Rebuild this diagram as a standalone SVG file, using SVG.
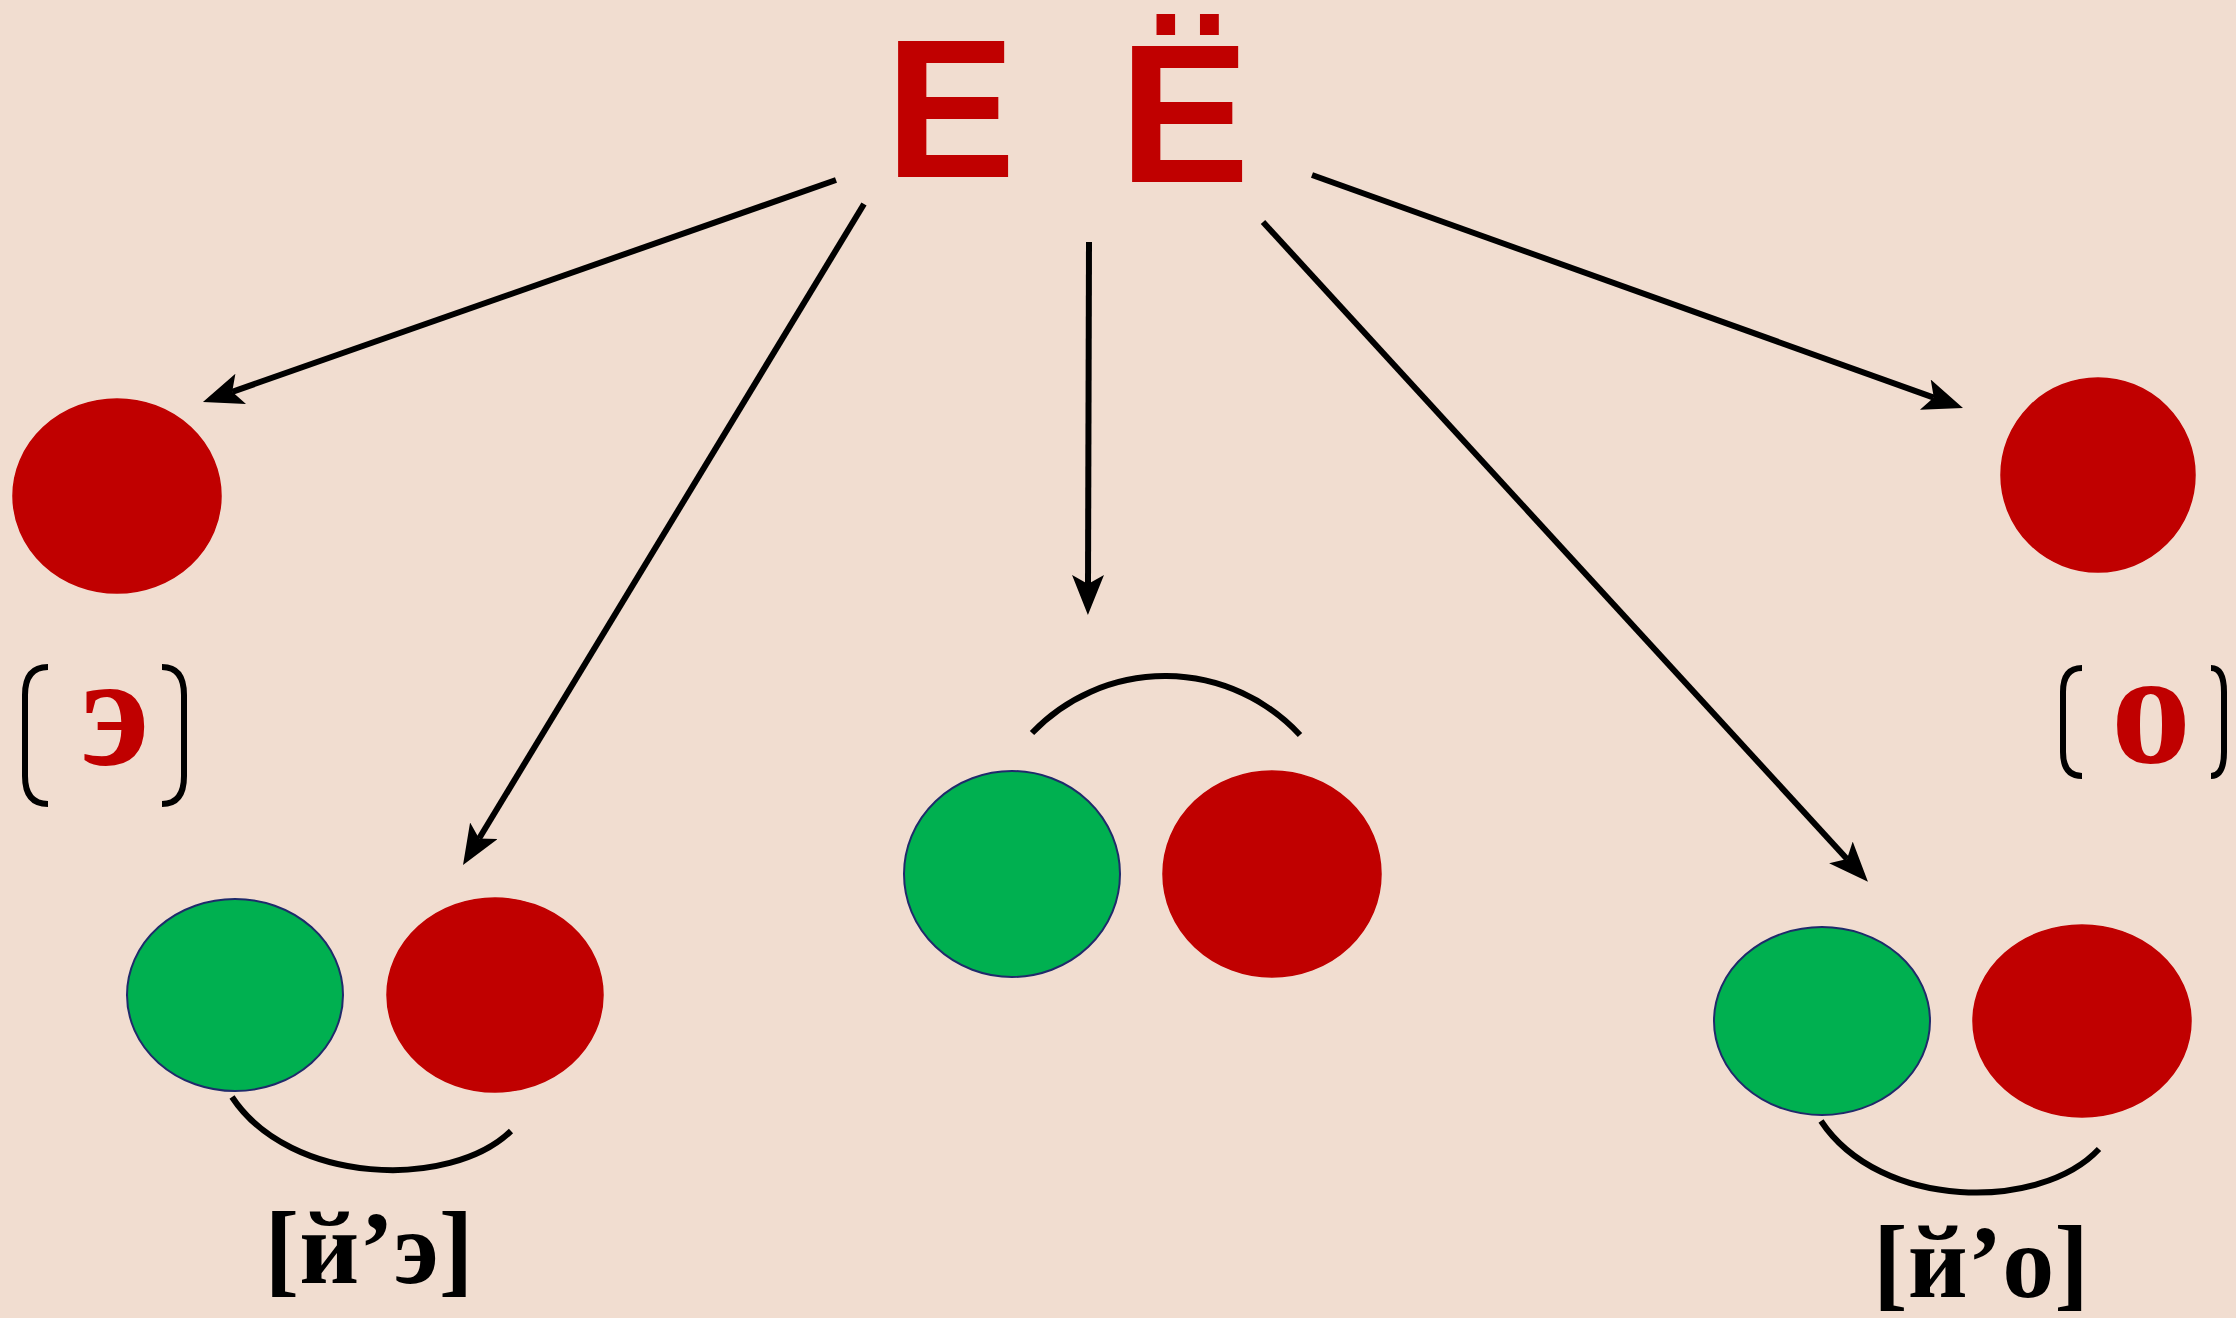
<svg xmlns="http://www.w3.org/2000/svg" width="2236" height="1318" viewBox="0 0 2236 1318">
<style>
.red{fill:#C00000;stroke:#C00000;stroke-width:1.5}
.green{fill:#00B050;stroke:#1F2A6B;stroke-width:2}
</style>
<defs>
<marker id="ah" markerUnits="userSpaceOnUse" markerWidth="42" markerHeight="34" refX="9" refY="16" orient="auto" viewBox="0 0 42 34">
<path d="M0,0 L40,16 L0,32 L9,16 Z" fill="#000"/>
</marker>
</defs>
<rect width="2236" height="1318" fill="#F1DDD0"/>
<g id="title" font-family="Liberation Sans, Arial, sans-serif" font-weight="700" font-size="196" fill="#C00000">
<text x="885" y="177">Е</text>
<text x="1119" y="182">Ё</text>
</g>
<g id="connectors" stroke="#000" stroke-width="6" fill="none">
<line x1="836" y1="180" x2="232.2" y2="391.8" marker-end="url(#ah)"/>
<line x1="864" y1="204" x2="479.1" y2="838.5" marker-end="url(#ah)"/>
<line x1="1089" y1="242" x2="1088" y2="584" marker-end="url(#ah)"/>
<line x1="1263" y1="222" x2="1847" y2="859" marker-end="url(#ah)"/>
<line x1="1312" y1="175" x2="1933.8" y2="397.6" marker-end="url(#ah)"/>
</g>
<g id="node-e">
<ellipse class="red" cx="117" cy="496" rx="104" ry="97"/>
<g stroke="#000" stroke-width="6" fill="none">
<path d="M48,667 Q25,667 25,695 L25,776 Q25,804 48,804"/>
<path d="M162,667 Q184,667 184,695 L184,776 Q184,804 162,804"/>
</g>
<text x="115" y="765" font-family="Liberation Serif, Times New Roman, serif" font-weight="700" font-size="160" fill="#C00000" text-anchor="middle">э</text>
</g>
<g id="node-o">
<ellipse class="red" cx="2098" cy="475" rx="97" ry="97"/>
<g stroke="#000" stroke-width="6" fill="none">
<path d="M2082,668 Q2063,668 2063,692 L2063,752 Q2063,776 2082,776"/>
<path d="M2211,668 Q2224,668 2224,692 L2224,752 Q2224,776 2211,776"/>
</g>
<text x="2151" y="762" font-family="Liberation Serif, Times New Roman, serif" font-weight="700" font-size="160" fill="#C00000" text-anchor="middle">о</text>
</g>
<g id="node-ye">
<ellipse class="green" cx="235" cy="995" rx="108" ry="96"/>
<ellipse class="red" cx="495" cy="995" rx="108" ry="97"/>
<path d="M232,1097 C290,1185 450,1190 511,1131" stroke="#000" stroke-width="6" fill="none"/>
<text x="369" y="1283" font-family="Liberation Serif, Times New Roman, serif" font-weight="700" font-size="104" fill="#000" text-anchor="middle">[й’э]</text>
</g>
<g id="node-middle">
<ellipse class="green" cx="1012" cy="874" rx="108" ry="103"/>
<ellipse class="red" cx="1272" cy="874" rx="109" ry="103"/>
<path d="M1032,733 A184,184 0 0 1 1300,735" stroke="#000" stroke-width="6" fill="none"/>
</g>
<g id="node-yo">
<ellipse class="green" cx="1822" cy="1021" rx="108" ry="94"/>
<ellipse class="red" cx="2082" cy="1021" rx="109" ry="96"/>
<path d="M1821,1121 C1880,1210 2040,1212 2099,1149" stroke="#000" stroke-width="6" fill="none"/>
<text x="1981" y="1297" font-family="Liberation Serif, Times New Roman, serif" font-weight="700" font-size="104" fill="#000" text-anchor="middle">[й’о]</text>
</g>
</svg>
